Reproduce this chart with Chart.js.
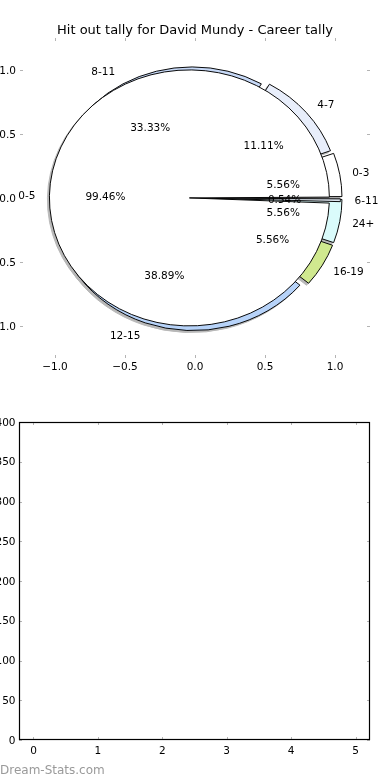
<!DOCTYPE html>
<html>
<head>
<meta charset="utf-8">
<script src="https://cdn.jsdelivr.net/npm/chart.js@4.4.1/dist/chart.umd.min.js"></script>
<style>
  html, body { margin: 0; padding: 0; background: #fff; }
  #page { position: relative; width: 390px; height: 780px; overflow: hidden; font-family: "DejaVu Sans", sans-serif; }
  .layer { position: absolute; left: 0; top: 0; }
  #pies { position: absolute; left: 0; top: 0; width: 390px; height: 390px; filter: drop-shadow(-2px 2.5px 0.4px rgba(77, 77, 77, 0.4)); }
  #bars { position: absolute; left: 0; top: 390px; }
  #credit { position: absolute; left: 0; top: 763px; font-size: 12px; color: #9a9a9a; }
</style>
</head>
<body>
<div id="page">
  <div id="pies">
    <canvas id="ringPie" class="layer" width="390" height="390"></canvas>
    <canvas id="mainPie" class="layer" width="390" height="390"></canvas>
  </div>
  <canvas id="pieAxes" class="layer" width="390" height="390"></canvas>
  <canvas id="bars" width="390" height="390"></canvas>
  <div id="credit">Dream-Stats.com</div>
</div>
<script>
const chartTitle = 'Hit out tally for David Mundy - Career tally';

// outer ring (games per hit-out band)
const ringLabels = ['0-3', '4-7', '8-11', '12-15', '16-19', '24+'];
const ringCounts = [1, 2, 6, 7, 1, 1];
const ringColors = ['#ffffff', '#e8eefb', '#c7d9f7', '#b7d3f9', '#d0e98f', '#dafbfb'];

// inner pie
const mainLabels = ['0-5', '6-11'];
const mainCounts = [184, 1];
const mainColors = ['#ffffff', '#dde5ef'];

const pieTicks = [-1.0, -0.5, 0.0, 0.5, 1.0];

// empty bar panel underneath
const barCategories = [0, 1, 2, 3, 4, 5];
const barValues = [0, 0, 0, 0, 0, 0];
const barTicks = [0, 50, 100, 150, 200, 250, 300, 350, 400];

const explode = 0.04;
const labelSize = 10.5;

Chart.defaults.font.family = '"DejaVu Sans", sans-serif';
Chart.defaults.color = '#000';

// matplotlib style inward tick marks (+ optional frame)
const innerTicks = {
  id: 'innerTicks',
  afterDraw(chart, args, opts) {
    const {ctx, chartArea: a, scales: {x, y}} = chart;
    ctx.save();
    ctx.strokeStyle = '#b4b4b4';
    ctx.lineWidth = 1;
    ctx.beginPath();
    x.ticks.forEach(t => {
      const px = Math.round(x.getPixelForValue(t.value)) + 0.5;
      ctx.moveTo(px, a.top); ctx.lineTo(px, a.top + 3);
      ctx.moveTo(px, a.bottom); ctx.lineTo(px, a.bottom - 3);
    });
    y.ticks.forEach(t => {
      const py = Math.round(y.getPixelForValue(t.value)) + 0.5;
      ctx.moveTo(a.left, py); ctx.lineTo(a.left + 3, py);
      ctx.moveTo(a.right, py); ctx.lineTo(a.right - 3, py);
    });
    ctx.stroke();
    if (opts.frame) {
      ctx.strokeStyle = '#000';
      ctx.lineWidth = 1.2;
      ctx.strokeRect(Math.round(a.left) + 0.5, Math.round(a.top) + 0.5,
        Math.round(a.right - a.left) - 1, Math.round(a.bottom - a.top) - 1);
    }
    ctx.restore();
  }
};

function wedgeAngles(counts) {
  const total = counts.reduce((s, v) => s + v, 0);
  let start = 0;
  return counts.map(c => {
    const span = 360 * c / total;
    const mid = start + span / 2;
    start += span;
    return { mid, pct: 100 * c / total };
  });
}

// wedge labels and percentages, placed in data units like pyplot.pie
const pieText = {
  id: 'pieText',
  afterDraw(chart) {
    const {ctx, scales: {x, y}} = chart;
    const drop = labelSize * 0.36; // put the digits' middle on the anchor
    ctx.save();
    ctx.font = labelSize + 'px "DejaVu Sans"';
    ctx.fillStyle = '#000';
    ctx.textBaseline = 'alphabetic';
    [[ringLabels, ringCounts], [mainLabels, mainCounts]].forEach(([labels, counts]) => {
      wedgeAngles(counts).forEach((w, i) => {
        const t = w.mid * Math.PI / 180;
        const c = Math.cos(t), s = Math.sin(t);
        const lx = (explode + 1.1) * c, ly = (explode + 1.1) * s;
        ctx.textAlign = lx > 0 ? 'left' : 'right';
        ctx.fillText(labels[i], x.getPixelForValue(lx), y.getPixelForValue(ly) + drop);
        ctx.textAlign = 'center';
        ctx.fillText(w.pct.toFixed(2) + '%',
          x.getPixelForValue((explode + 0.6) * c), y.getPixelForValue((explode + 0.6) * s) + drop);
      });
    });
    ctx.restore();
  }
};

const fmtPie = v => (v < 0 ? '\u2212' : '') + Math.abs(v).toFixed(1);

const axesChart = new Chart(document.getElementById('pieAxes'), {
  type: 'scatter',
  data: { datasets: [] },
  options: {
    responsive: false,
    animation: false,
    events: [],
    layout: { padding: 0 },
    plugins: {
      legend: { display: false },
      tooltip: { enabled: false },
      title: {
        display: true,
        text: chartTitle,
        color: '#000',
        font: { size: 13, weight: 'normal', lineHeight: 1 },
        padding: { top: 24, bottom: 1 }
      },
      innerTicks: {}
    },
    scales: {
      x: {
        type: 'linear', min: -1.25, max: 1.25,
        afterBuildTicks: s => { s.ticks = pieTicks.map(v => ({ value: v })); },
        grid: { display: false, drawTicks: false },
        border: { display: false },
        ticks: { font: { size: 10.5 }, padding: 3, maxRotation: 0, callback: fmtPie },
        afterFit: s => { s.height = 32; }
      },
      y: {
        type: 'linear', min: -1.25, max: 1.25,
        afterBuildTicks: s => { s.ticks = pieTicks.map(v => ({ value: v })); },
        grid: { display: false, drawTicks: false },
        border: { display: false },
        ticks: { font: { size: 10.5 }, padding: 4, labelOffset: 1, callback: fmtPie },
        afterFit: s => { s.width = 20; }
      },
      // empty right axis keeps the plot centred under the title
      y2: {
        type: 'linear', position: 'right', min: -1.25, max: 1.25,
        grid: { display: false, drawTicks: false },
        border: { display: false },
        ticks: { display: false },
        afterFit: s => { s.width = 20; }
      }
    }
  },
  plugins: [innerTicks, pieText]
});

// pie geometry taken from the axes above
const xs = axesChart.scales.x, ys = axesChart.scales.y;
const cx = xs.getPixelForValue(0), cy = ys.getPixelForValue(0);
const rx = xs.getPixelForValue(1) - cx, ry = cy - ys.getPixelForValue(1);
const box = 160;
const piePadding = { left: cx - box, right: 390 - cx - box, top: cy - box, bottom: 390 - cy - box };
const shift = explode * rx;

// axes are not square, so the pie comes out as an ellipse
const squash = {
  id: 'squash',
  beforeDatasetsDraw(chart) {
    const ctx = chart.ctx;
    ctx.save();
    ctx.translate(cx, cy);
    ctx.scale(1, ry / rx);
    ctx.translate(-cx, -cy);
  },
  afterDatasetsDraw(chart) {
    chart.ctx.restore();
  }
};

function makePie(id, labels, counts, colors, radius) {
  // pyplot goes counter-clockwise from 3 o'clock, chart.js clockwise
  return new Chart(document.getElementById(id), {
    type: 'pie',
    data: {
      labels: labels.slice().reverse(),
      datasets: [{
        data: counts.slice().reverse(),
        backgroundColor: colors.slice().reverse(),
        borderColor: '#000',
        borderWidth: 1,
        offset: shift * 4,
        radius: radius
      }]
    },
    options: {
      responsive: false,
      animation: false,
      events: [],
      rotation: 90,
      layout: { padding: piePadding },
      plugins: { legend: { display: false }, tooltip: { enabled: false } }
    },
    plugins: [squash]
  });
}

makePie('ringPie', ringLabels, ringCounts, ringColors, rx - shift * 0.4);
makePie('mainPie', mainLabels, mainCounts, mainColors, rx - shift);

new Chart(document.getElementById('bars'), {
  type: 'bar',
  data: {
    datasets: [{
      data: barCategories.map((c, i) => ({ x: c, y: barValues[i] })),
      backgroundColor: '#b0c4de',
      borderWidth: 0
    }]
  },
  options: {
    responsive: false,
    animation: false,
    events: [],
    layout: { padding: { top: 32, right: 20 } },
    plugins: {
      legend: { display: false },
      tooltip: { enabled: false },
      innerTicks: { frame: true }
    },
    scales: {
      x: {
        type: 'linear', min: -0.225, max: 5.225, offset: false,
        afterBuildTicks: s => { s.ticks = barCategories.map(v => ({ value: v })); },
        grid: { display: false, drawTicks: false, offset: false },
        border: { display: false },
        ticks: { font: { size: 10.5 }, padding: 5, maxRotation: 0 },
        afterFit: s => { s.height = 40; }
      },
      y: {
        min: 0, max: 400,
        afterBuildTicks: s => { s.ticks = barTicks.map(v => ({ value: v })); },
        grid: { display: false, drawTicks: false },
        border: { display: false },
        ticks: { font: { size: 10.5 }, padding: 3.5, labelOffset: 1 },
        afterFit: s => { s.width = 19; }
      }
    }
  },
  plugins: [innerTicks]
});
</script>
</body>
</html>
